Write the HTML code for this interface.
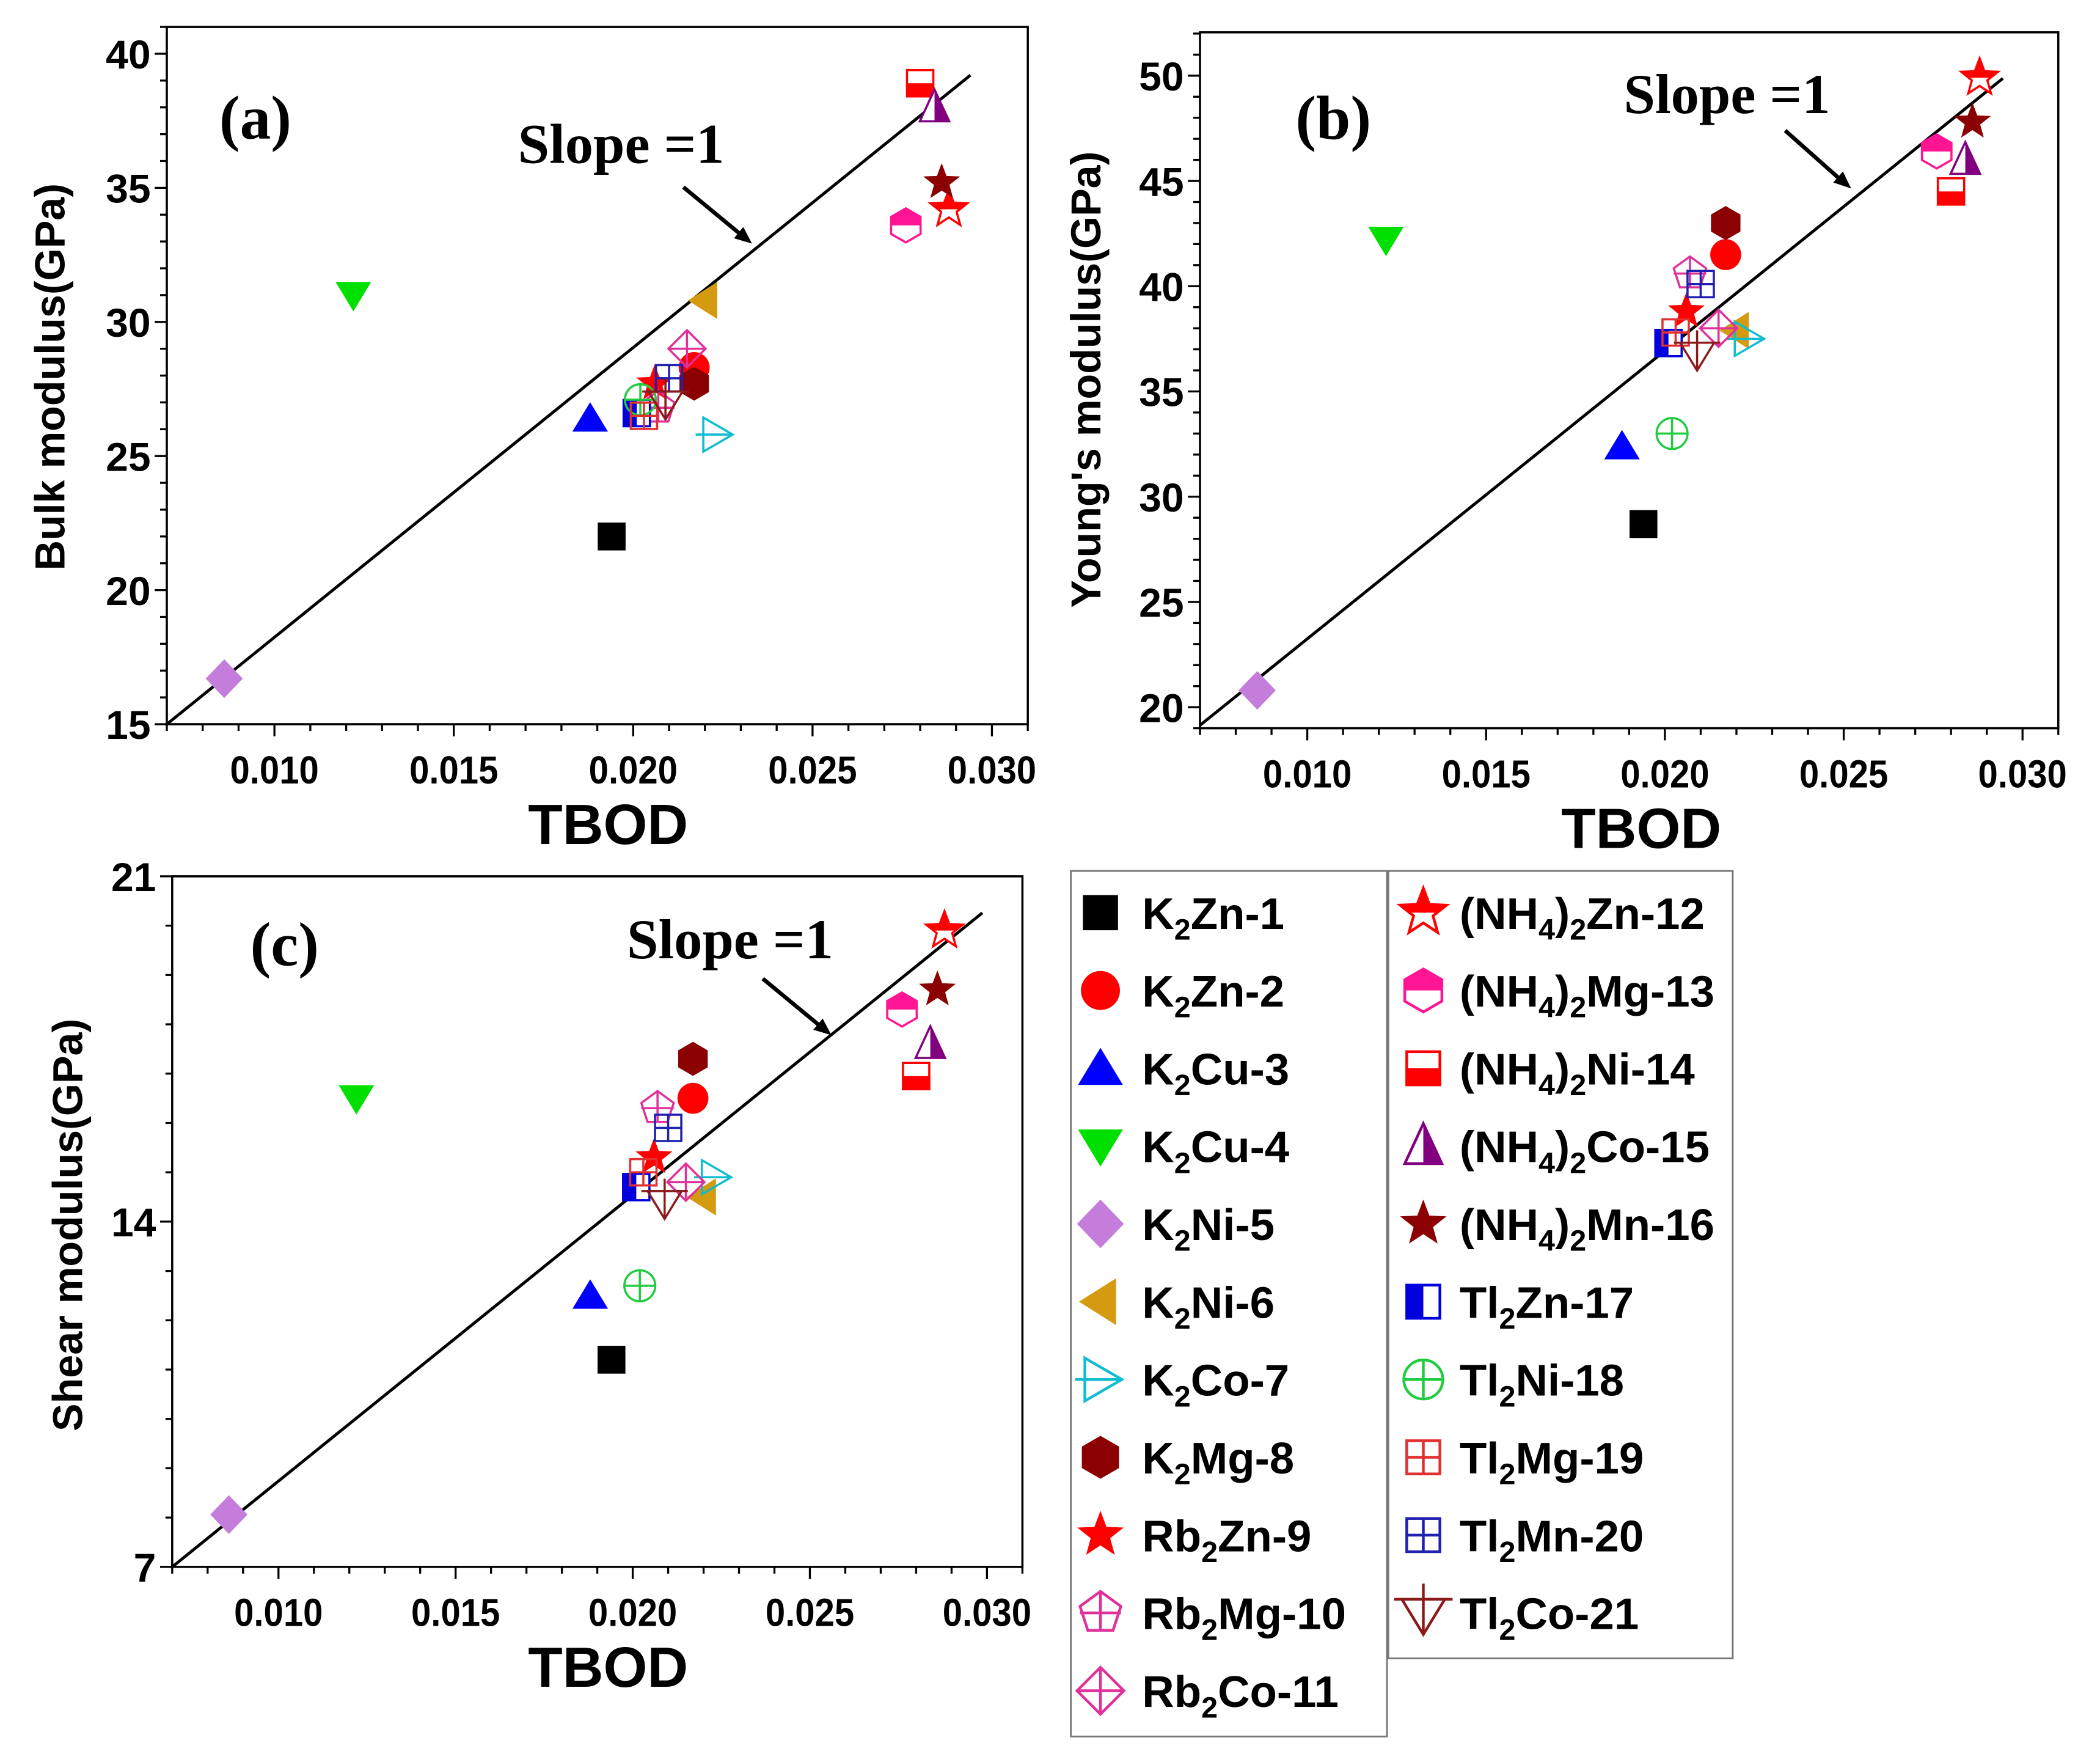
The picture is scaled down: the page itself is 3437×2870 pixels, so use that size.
<!DOCTYPE html>
<html><head><meta charset="utf-8">
<style>
html,body{margin:0;padding:0;background:#fff;}
svg{display:block;}
text{font-family:"Liberation Sans",Arial,sans-serif;font-weight:bold;fill:#000;}
.serif{font-family:"Liberation Serif","Times New Roman",serif;}
</style></head>
<body>
<svg id="fig" xmlns="http://www.w3.org/2000/svg" width="3437" height="2870" viewBox="0 0 1561 1303" preserveAspectRatio="none">
<g id="root"></g>
</svg>
<script>
// ---- data ----
const names = ["K2Zn-1","K2Zn-2","K2Cu-3","K2Cu-4","K2Ni-5","K2Ni-6","K2Co-7","K2Mg-8","Rb2Zn-9","Rb2Mg-10","Rb2Co-11","(NH4)2Zn-12","(NH4)2Mg-13","(NH4)2Ni-14","(NH4)2Co-15","(NH4)2Mn-16","Tl2Zn-17","Tl2Ni-18","Tl2Mg-19","Tl2Mn-20","Tl2Co-21"];
const tbod = [0.0194,0.0217,0.0188,0.0122,0.0086,0.0220,0.0223,0.0217,0.0206,0.0207,0.0215,0.0288,0.0276,0.0280,0.0284,0.0286,0.0201,0.0202,0.0203,0.0210,0.0209];
const bulk = [22.0,28.3,26.4,31.0,16.7,30.8,25.8,27.7,27.7,26.8,29.0,34.2,33.6,38.9,38.0,35.2,26.6,27.1,26.5,27.9,27.0];
const young = [28.7,41.5,32.4,42.2,20.8,37.9,37.5,43.0,38.8,40.6,38.0,49.9,46.4,44.5,46.0,47.8,37.3,33.0,37.8,40.1,36.8];
const shear = [11.2,16.5,12.5,16.5,8.06,14.5,14.9,17.3,15.3,16.3,14.8,19.9,18.3,16.95,17.6,18.7,14.7,12.7,15.0,15.9,14.4];
const xTicks = [0.010,0.015,0.020,0.025,0.030];
const xTickLabels = ["0.010","0.015","0.020","0.025","0.030"];
const yTicksA = [15,20,25,30,35,40];
const yTicksB = [20,25,30,35,40,45,50];
const yTicksC = [7,14,21];
const slopeA = [[0.007,15],[0.0294,39.2]];
const slopeB = [[0.007,19.14],[0.02945,49.87]];
const slopeC = [[0.007,7],[0.02987,20.26]];

const NS="http://www.w3.org/2000/svg";
const root=document.getElementById('root');
function el(tag,attrs,parent){const e=document.createElementNS(NS,tag);for(const k in attrs)e.setAttribute(k,attrs[k]);(parent||root).appendChild(e);return e;}

const styles=[
 {t:'square',c:'#000'},{t:'circle',c:'#ff0000'},{t:'triup',c:'#0000ff'},{t:'tridown',c:'#00e000'},
 {t:'diamond',c:'#c47ddb'},{t:'trileft',c:'#d49a10'},{t:'triright',c:'#10bcd0'},{t:'hex',c:'#8b0000'},
 {t:'star',c:'#ff0000'},{t:'pent',c:'#e0309a'},{t:'diamondx',c:'#e0309a'},{t:'starhalf',c:'#ff0000'},
 {t:'hexhalf',c:'#ff1493'},{t:'sqhalf',c:'#ff0000'},{t:'trihalf',c:'#800080'},{t:'star',c:'#8b0000'},
 {t:'sqleft',c:'#0000dd'},{t:'circx',c:'#20cc40'},{t:'sqx',c:'#e03030'},{t:'sqx',c:'#2020b0'},{t:'tridx',c:'#8b1a1a'}
];
function poly(pts){return pts.map(p=>p[0].toFixed(2)+','+p[1].toFixed(2)).join(' ');}
function starPts(cx,cy,r){const p=[];for(let i=0;i<10;i++){const a=-Math.PI/2+i*Math.PI/5;const rr=i%2?r*0.42:r;p.push([cx+rr*Math.cos(a),cy+rr*Math.sin(a)]);}return p;}
function hexPts(cx,cy,r){const p=[];for(let i=0;i<6;i++){const a=-Math.PI/2+i*Math.PI/3;p.push([cx+r*Math.cos(a),cy+r*Math.sin(a)]);}return p;}
function pentPts(cx,cy,r){const p=[];for(let i=0;i<5;i++){const a=-Math.PI/2+i*2*Math.PI/5;p.push([cx+r*Math.cos(a),cy+r*Math.sin(a)]);}return p;}
let clipCount=0;
function topClip(g,cx,cy,r){const cp='cp'+(clipCount++);const d=el('clipPath',{id:cp},g);el('rect',{x:cx-r*2,y:cy-r*2,width:r*4,height:r*2},d);return 'url(#'+cp+')';}
function marker(g,idx,cx,cy,r){
 const s=styles[idx],c=s.c,sw=r*0.14;
 switch(s.t){
 case 'square':el('rect',{x:cx-r*0.9,y:cy-r*0.9,width:r*1.8,height:r*1.8,fill:c},g);break;
 case 'circle':el('circle',{cx:cx,cy:cy,r:r,fill:c},g);break;
 case 'triup':el('polygon',{points:poly([[cx,cy-r*1.05],[cx+r*1.15,cy+r*0.85],[cx-r*1.15,cy+r*0.85]]),fill:c},g);break;
 case 'tridown':el('polygon',{points:poly([[cx,cy+r*1.05],[cx+r*1.15,cy-r*0.85],[cx-r*1.15,cy-r*0.85]]),fill:c},g);break;
 case 'diamond':el('polygon',{points:poly([[cx,cy-r*1.25],[cx+r*1.2,cy],[cx,cy+r*1.25],[cx-r*1.2,cy]]),fill:c},g);break;
 case 'trileft':el('polygon',{points:poly([[cx-r*1.1,cy],[cx+r*0.8,cy-r*1.2],[cx+r*0.8,cy+r*1.2]]),fill:c},g);break;
 case 'triright':el('polygon',{points:poly([[cx+r*1.1,cy],[cx-r*0.8,cy-r*1.1],[cx-r*0.8,cy+r*1.1]]),fill:'none',stroke:c,'stroke-width':sw},g);
   el('line',{x1:cx-r*1.3,y1:cy,x2:cx+r*1.1,y2:cy,stroke:c,'stroke-width':sw},g);break;
 case 'hex':el('polygon',{points:poly(hexPts(cx,cy,r*1.1)),fill:c},g);break;
 case 'star':el('polygon',{points:poly(starPts(cx,cy,r*1.25)),fill:c},g);break;
 case 'pent':el('polygon',{points:poly(pentPts(cx,cy,r*1.1)),fill:'none',stroke:c,'stroke-width':sw},g);
   el('line',{x1:cx-r*1.05,y1:cy,x2:cx+r*1.05,y2:cy,stroke:c,'stroke-width':sw},g);
   el('line',{x1:cx,y1:cy-r*1.1,x2:cx,y2:cy+r*0.9,stroke:c,'stroke-width':sw},g);break;
 case 'diamondx':el('polygon',{points:poly([[cx,cy-r*1.2],[cx+r*1.2,cy],[cx,cy+r*1.2],[cx-r*1.2,cy]]),fill:'none',stroke:c,'stroke-width':sw},g);
   el('line',{x1:cx-r*1.2,y1:cy,x2:cx+r*1.2,y2:cy,stroke:c,'stroke-width':sw},g);
   el('line',{x1:cx,y1:cy-r*1.2,x2:cx,y2:cy+r*1.2,stroke:c,'stroke-width':sw},g);break;
 case 'starhalf':{const pts=poly(starPts(cx,cy,r*1.25));
   el('polygon',{points:pts,fill:'#fff',stroke:c,'stroke-width':sw},g);
   el('polygon',{points:pts,fill:c,'clip-path':topClip(g,cx,cy,r)},g);break;}
 case 'hexhalf':{const pts=poly(hexPts(cx,cy,r*1.1));
   el('polygon',{points:pts,fill:'#fff',stroke:c,'stroke-width':sw},g);
   el('polygon',{points:pts,fill:c,'clip-path':topClip(g,cx,cy,r)},g);break;}
 case 'sqhalf':el('rect',{x:cx-r*0.85,y:cy-r*0.85,width:r*1.7,height:r*1.7,fill:'#fff',stroke:c,'stroke-width':sw},g);
   el('rect',{x:cx-r*0.85,y:cy,width:r*1.7,height:r*0.85,fill:c},g);break;
 case 'trihalf':el('polygon',{points:poly([[cx,cy-r*1.15],[cx+r*0.95,cy+r*0.9],[cx-r*0.95,cy+r*0.9]]),fill:'#fff',stroke:c,'stroke-width':sw},g);
   el('polygon',{points:poly([[cx,cy-r*1.15],[cx+r*0.95,cy+r*0.9],[cx,cy+r*0.9]]),fill:c},g);break;
 case 'sqleft':el('rect',{x:cx-r*0.85,y:cy-r*0.85,width:r*1.7,height:r*1.7,fill:'#fff',stroke:c,'stroke-width':sw},g);
   el('rect',{x:cx-r*0.85,y:cy-r*0.85,width:r*0.85,height:r*1.7,fill:c},g);break;
 case 'circx':el('circle',{cx:cx,cy:cy,r:r,fill:'none',stroke:c,'stroke-width':sw},g);
   el('line',{x1:cx-r,y1:cy,x2:cx+r,y2:cy,stroke:c,'stroke-width':sw},g);
   el('line',{x1:cx,y1:cy-r,x2:cx,y2:cy+r,stroke:c,'stroke-width':sw},g);break;
 case 'sqx':el('rect',{x:cx-r*0.85,y:cy-r*0.85,width:r*1.7,height:r*1.7,fill:'none',stroke:c,'stroke-width':sw},g);
   el('line',{x1:cx-r*0.85,y1:cy,x2:cx+r*0.85,y2:cy,stroke:c,'stroke-width':sw},g);
   el('line',{x1:cx,y1:cy-r*0.85,x2:cx,y2:cy+r*0.85,stroke:c,'stroke-width':sw},g);break;
 case 'tridx':el('polygon',{points:poly([[cx,cy+r*1.1],[cx+r*1.1,cy-r*0.7],[cx-r*1.1,cy-r*0.7]]),fill:'none',stroke:c,'stroke-width':sw},g);
   el('line',{x1:cx-r*1.5,y1:cy-r*0.7,x2:cx+r*1.5,y2:cy-r*0.7,stroke:c,'stroke-width':sw},g);
   el('line',{x1:cx,y1:cy-r*1.5,x2:cx,y2:cy+r*1.1,stroke:c,'stroke-width':sw},g);break;
 }
}

function panel(cfg){
 const g=el('g',{});
 
 
 const X=v=>cfg.x0+(v-cfg.xd[0])/(cfg.xd[1]-cfg.xd[0])*(cfg.x1-cfg.x0);
 const Y=v=>cfg.y1-(v-cfg.yd[0])/(cfg.yd[1]-cfg.yd[0])*(cfg.y1-cfg.y0);
 const frame=el('rect',{x:cfg.x0,y:cfg.y0,width:cfg.x1-cfg.x0,height:cfg.y1-cfg.y0,fill:'none',stroke:'#000','stroke-width':1.6},g);
 
 
 for(let k=7;k<=31;k++){const v=k/1000;const px=X(v);const major=(k%5===0);
   el('line',{x1:px,y1:cfg.y1,x2:px,y2:cfg.y1+(major?9:5),stroke:'#000','stroke-width':1.5},g);}
 xTicks.forEach((v,i)=>{const t=el('text',{x:X(v),y:cfg.y1+44,'text-anchor':'middle','font-size':29,textLength:66,lengthAdjust:'spacingAndGlyphs'},g);t.textContent=xTickLabels[i];
   
   });
 for(let v=Math.ceil(cfg.yd[0]);v<=cfg.yd[1]+1e-9;v+=1){const py=Y(v);const major=cfg.yt.includes(v);
   el('line',{x1:cfg.x0,y1:py,x2:cfg.x0-(major?9:5),y2:py,stroke:'#000','stroke-width':1.5},g);}
 cfg.yt.forEach(v=>{const t=el('text',{x:cfg.x0-12,y:Y(v)+11,'text-anchor':'end','font-size':30},g);t.textContent=String(v);
   
   });
 const xt=el('text',{x:cfg.xtx,y:cfg.y1+89,'text-anchor':'middle','font-size':42},g);xt.textContent='TBOD';
 
 
 const yt=el('text',{x:0,y:0,'text-anchor':'middle','font-size':31,transform:`translate(${cfg.ytx},${cfg.yty}) rotate(-90)`},g);yt.textContent=cfg.ytitle;
 
 
 const sl=el('line',{x1:X(cfg.slope[0][0]),y1:Y(cfg.slope[0][1]),x2:X(cfg.slope[1][0]),y2:Y(cfg.slope[1][1]),stroke:'#000','stroke-width':2.2},g);
 
 
 const pl=el('text',{x:cfg.lab[0],y:cfg.lab[1],'font-size':46,'class':'serif'},g);pl.textContent=cfg.letter;
 
 
 const st=el('text',{x:cfg.sl[0],y:cfg.sl[1],'font-size':42,'class':'serif'},g);st.textContent='Slope =1';
 
 
 const a=cfg.arrow;
 el('line',{x1:a[0],y1:a[1],x2:a[2]-5,y2:a[3]-4,stroke:'#000','stroke-width':3},g);
 const ang=Math.atan2(a[3]-a[1],a[2]-a[0]);
 const hp=[[a[2],a[3]],[a[2]-14*Math.cos(ang-0.4),a[3]-14*Math.sin(ang-0.4)],[a[2]-14*Math.cos(ang+0.4),a[3]-14*Math.sin(ang+0.4)]];
 const ah=el('polygon',{points:poly(hp),fill:'#000'},g);
 
 
 cfg.vals.forEach((v,i)=>{const mg=el('g',{},g);
   
   
   marker(mg,i,X(tbod[i]),Y(v),11.5);});
}
panel({name:'panel-a-bulk',x0:124,x1:764,y0:20,y1:538,xd:[0.007,0.031],yd:[15,41],yt:yTicksA,vals:bulk,slope:slopeA,
 ytitle:'Bulk modulus(GPa)',ytx:48,yty:280,xtx:452,letter:'(a)',lab:[163,103],sl:[385,121],arrow:[508,139,559,181]});
panel({name:'panel-b-young',x0:892,x1:1530,y0:24,y1:541,xd:[0.007,0.031],yd:[19,52.06],yt:yTicksB,vals:young,slope:slopeB,
 ytitle:"Young's modulus(GPa)",ytx:818,yty:282,xtx:1220,letter:'(b)',lab:[963,103],sl:[1207,84],arrow:[1327,97,1376,140]});
panel({name:'panel-c-shear',x0:128,x1:760,y0:651,y1:1164,xd:[0.007,0.031],yd:[7,21],yt:yTicksC,vals:shear,slope:slopeC,
 ytitle:'Shear modulus(GPa)',ytx:61,yty:910,xtx:452,letter:'(c)',lab:[186,717],sl:[466,712],arrow:[567,727,618,769]});

// legend
const lg=el('g',{});


const b1=el('rect',{x:796,y:647,width:235,height:643,fill:'#fff',stroke:'#777','stroke-width':1.3},lg);


const b2=el('rect',{x:1032,y:647,width:256,height:585,fill:'#fff',stroke:'#777','stroke-width':1.3},lg);


names.forEach((n,i)=>{
 const col=i<11?0:1,row=i<11?i:i-11;
 const mx=col?1058:818,tx=col?1085:849,cy=678+row*57.8;
 const eg=el('g',{},lg);
 
 
 marker(eg,i,mx,cy,14.5);
 const t=el('text',{x:tx,y:cy+12,'font-size':33},eg);
 let parts;
 const m=n.match(/^\(NH4\)2(.*)$/);
 if(m) parts=[['(NH',0],['4',1],[')',0],['2',1],[m[1],0]];
 else {const mm=n.match(/^([A-Za-z]+)2(.*)$/);parts=[[mm[1],0],['2',1],[mm[2],0]];}
 let low=false;
 parts.forEach(p=>{
   const attrs={};
   if(p[1]){attrs['font-size']=22;if(!low){attrs.dy=8;low=true;}}
   else {attrs['font-size']=33;if(low){attrs.dy=-8;low=false;}}
   const ts=el('tspan',attrs,t);ts.textContent=p[0];
 });
});
</script>
</body></html>
